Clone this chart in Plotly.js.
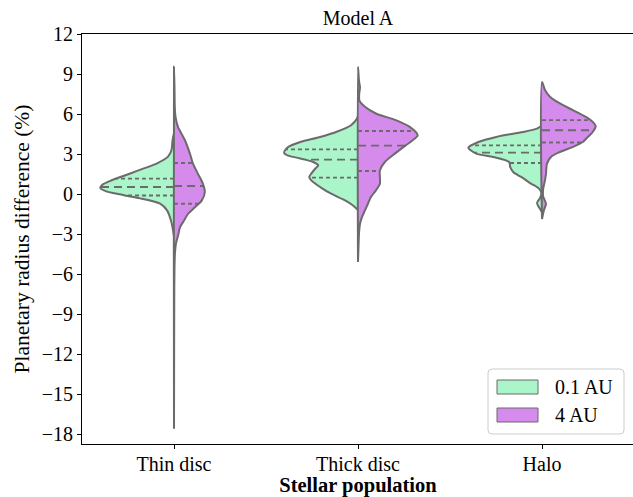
<!DOCTYPE html>
<html><head><meta charset="utf-8">
<script src="https://cdn.plot.ly/plotly-3.0.1.min.js"></script>
<style>html,body{margin:0;padding:0;overflow:hidden;background:#fff}</style>
</head><body><div id="chart" style="width:634px;height:497px"></div>
<script>
const categories = ["Thin disc", "Thick disc", "Halo"];
const seriesNames = ["0.1 AU", "4 AU"];
const yTicks = [-18, -15, -12, -9, -6, -3, 0, 3, 6, 9, 12];

// Density profiles (value grid, relative density)
const thinNearY = [4.6, 4.0, 3.3, 2.8, 2.3, 1.9, 1.54, 1.05, 0.7, 0.43, 0.2, 0.05, -0.33, -0.73, -1.23, -2.0, -2.7, -3.2];
const thinNearD = [0, 1.5, 2.5, 6, 17, 31, 44, 62, 72, 74, 68, 60, 34, 14, 7, 3, 1, 0];
const thinFarY = [9.54, 8.0, 6.5, 5.8, 5.03, 4.03, 3.03, 2.3, 1.53, 0.78, 0.15, -0.48, -1.0, -1.5, -2.0, -2.5, -3.0, -3.7, -4.4, -5.5, -7.0, -17.6];
const thinFarD = [0, 0.5, 0.8, 1.5, 4, 11, 16, 19, 24, 29, 31, 28, 21, 14, 10, 6, 4.5, 2, 1, 0.5, 0.3, 0];
const thickNearY = [5.9, 5.66, 5.16, 4.65, 4.28, 3.9, 3.53, 3.2, 3.03, 2.9, 2.73, 2.58, 2.4, 2.15, 1.9, 1.53, 1.27, 1.02, 0.52, 0.02, -0.48, -0.86, -1.2];
const thickNearD = [0, 1, 7, 22, 38, 58, 70, 74, 74, 71, 62, 53, 45, 40, 43, 47, 49, 47, 38, 27, 13, 5, 0];
const thickFarY = [9.54, 8.5, 8.0, 7.5, 7.0, 6.54, 6.04, 5.54, 5.03, 4.41, 4.03, 3.65, 3.03, 2.4, 1.77, 1.27, 0.77, 0.27, -0.23, -0.73, -1.23, -1.73, -2.23, -3.0, -4.0, -5.1];
const thickFarD = [0, 1, 2, 1.2, 1.5, 7, 18, 38, 52, 60, 55, 48, 37, 27, 22, 22, 22, 18, 13, 10, 7, 4, 2, 1, 0.5, 0];
const haloNearY = [5.1, 4.9, 4.65, 4.28, 3.9, 3.48, 3.03, 2.78, 2.4, 2.03, 1.65, 1.28, 0.78, 0.4, 0.02, -0.3, -0.68, -1.0, -1.36];
const haloNearD = [0, 5, 19, 46, 64, 74, 66, 49, 33, 32, 29, 21, 11, 3, 0.5, 2, 5, 3, 0];
const haloFarY = [8.41, 7.8, 7.29, 6.79, 6.29, 5.78, 5.41, 5.08, 4.65, 4.28, 3.9, 3.53, 3.15, 2.78, 2.28, 1.53, 1.02, 0.52, 0.02, -0.35, -0.73, -1.2, -1.88];
const haloFarD = [0, 3, 8, 18, 31, 44, 51, 54, 51, 46, 41, 31, 18, 9, 5, 4, 3, 1.5, 0.5, 2, 4, 2, 0];

// Quartiles per category
const nearQ1 = [-0.11, 1.23, 2.33];
const nearMed = [0.52, 2.58, 3.1];
const nearQ3 = [1.15, 3.35, 3.65];
const farQ1 = [-0.73, 1.72, 3.86];
const farMed = [0.6, 3.63, 4.78];
const farQ3 = [2.33, 4.73, 5.54];

const nearColor = "#aaf5c9";
const farColor = "#d48bec";
const edge = "#6b6b6b";
const FONT = "Liberation Serif, Times New Roman, serif";
const densScale = 0.4 / 74; // max half-width 0.4 category units

const profiles = [
  {near: [thinNearY, thinNearD], far: [thinFarY, thinFarD]},
  {near: [thickNearY, thickNearD], far: [thickFarY, thickFarD]},
  {near: [haloNearY, haloNearD], far: [haloFarY, haloFarD]}
];

function interp(ys, ds, v) {
  for (let i = 0; i < ys.length - 1; i++) {
    const a = ys[i], b = ys[i + 1];
    if ((v <= a && v >= b) || (v >= a && v <= b)) {
      const t = (v - a) / (b - a);
      return ds[i] + t * (ds[i + 1] - ds[i]);
    }
  }
  return 0;
}

const traces = [];
profiles.forEach((p, ci) => {
  [["near", -1, nearColor], ["far", 1, farColor]].forEach(([k, sgn, col]) => {
    const [ys, ds] = p[k];
    const x = ys.map((y, i) => ci + sgn * ds[i] * densScale);
    const y = ys.slice();
    x.push(ci, ci); y.push(ys[ys.length - 1], ys[0]);
    traces.push({
      type: "scatter", mode: "lines", x: x, y: y, fill: "toself",
      fillcolor: col, line: {color: edge, width: 2, shape: "spline", smoothing: 0.8},
      showlegend: false, hoverinfo: "skip"
    });
  });
});

function qTrace(vals, side, key, dash) {
  const xs = [], ys = [];
  vals.forEach((v, ci) => {
    const [py, pd] = profiles[ci][key];
    const w = interp(py, pd, v) * densScale;
    xs.push(ci, ci + side * w, null);
    ys.push(v, v, null);
  });
  return {type: "scatter", mode: "lines", x: xs, y: ys,
    line: {color: edge, width: 1.9, dash: dash}, showlegend: false, hoverinfo: "skip"};
}
const shortDash = "4px,3px", longDash = "8px,5px";
traces.push(qTrace(nearQ1, -1, "near", shortDash));
traces.push(qTrace(nearQ3, -1, "near", shortDash));
traces.push(qTrace(nearMed, -1, "near", longDash));
traces.push(qTrace(farQ1, 1, "far", shortDash));
traces.push(qTrace(farQ3, 1, "far", shortDash));
traces.push(qTrace(farMed, 1, "far", longDash));

// manual legend (pixel -> paper helpers)
const L = 82, T = 34, W = 552, H = 410;
const px = x => (x - L) / W;
const py = y => (T + H - y) / H;
function roundRect(x0, y0, x1, y1, r) {
  const rx = r / W, ry = r / H;
  const a = px(x0), b = px(x1), c = py(y0), d = py(y1);
  return `M${a + rx},${c} L${b - rx},${c} Q${b},${c} ${b},${c - ry} L${b},${d + ry} Q${b},${d} ${b - rx},${d} L${a + rx},${d} Q${a},${d} ${a},${d + ry} L${a},${c - ry} Q${a},${c} ${a + rx},${c} Z`;
}
const shapes = [
  {type: "path", xref: "paper", yref: "paper", path: roundRect(488, 369, 624, 434, 4),
   fillcolor: "rgba(255,255,255,0.8)", line: {color: "#cccccc", width: 1}},
  {type: "rect", xref: "paper", yref: "paper", x0: px(497), x1: px(538), y0: py(380), y1: py(394),
   fillcolor: nearColor, line: {color: edge, width: 1}},
  {type: "rect", xref: "paper", yref: "paper", x0: px(497), x1: px(538), y0: py(408), y1: py(422),
   fillcolor: farColor, line: {color: edge, width: 1}}
];
const annotations = [
  {xref: "paper", yref: "paper", x: px(553), y: py(387), xanchor: "left", yanchor: "middle",
   text: seriesNames[0], showarrow: false, font: {family: FONT, size: 20, color: "#000"}},
  {xref: "paper", yref: "paper", x: px(553), y: py(415), xanchor: "left", yanchor: "middle",
   text: seriesNames[1], showarrow: false, font: {family: FONT, size: 20, color: "#000"}}
];

const layout = {
  width: 634, height: 497,
  margin: {l: L, r: 0, t: T, b: 497 - T - H},
  paper_bgcolor: "#fff", plot_bgcolor: "#fff",
  font: {family: FONT, size: 18, color: "#000"},
  title: {text: "Model A", font: {family: FONT, size: 20, color: "#000"},
    x: 0.5, xref: "paper", y: 1 - 18 / 497, yref: "container", yanchor: "middle"},
  xaxis: {range: [-0.5, 2.5], tickvals: [0, 1, 2], ticktext: categories,
    showgrid: false, zeroline: false, showline: true, linecolor: "#000", linewidth: 1, mirror: true,
    ticks: "outside", ticklen: 4, tickcolor: "#000", tickfont: {size: 20}, ticklabelstandoff: -2,
    title: {text: "<b>Stellar population</b>", font: {size: 20.5}, standoff: 8}},
  yaxis: {range: [-18.75, 12], tickvals: yTicks,
    showgrid: false, zeroline: false, showline: true, linecolor: "#000", linewidth: 1, mirror: true,
    ticks: "outside", ticklen: 4, tickcolor: "#000", tickfont: {size: 20},
    title: {text: "Planetary radius difference (%)", font: {size: 21.5}, standoff: 6}},
  showlegend: false,
  shapes: shapes, annotations: annotations
};
Plotly.newPlot("chart", traces, layout, {displayModeBar: false, staticPlot: true});
</script></body></html>
